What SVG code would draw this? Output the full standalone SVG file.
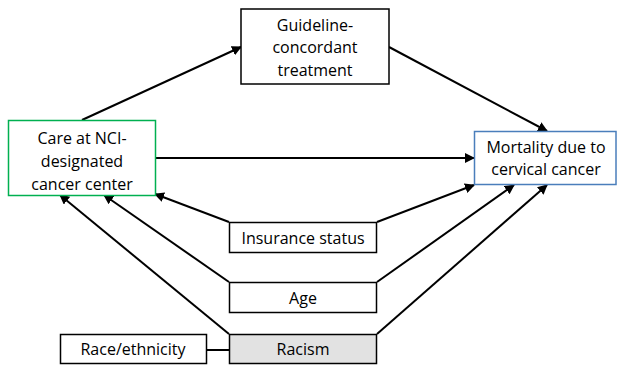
<svg xmlns="http://www.w3.org/2000/svg" width="617" height="365" viewBox="0 0 617 365">
<style>
.box{fill:#fff;stroke:#000;stroke-width:1.5}
text{font-family:"Open Sans","Liberation Sans",sans-serif;font-size:16px;fill:#000;text-anchor:middle}
.c line{stroke:#000;stroke-width:2}
.c .arr{marker-end:url(#ah)}
</style>
<defs>
<marker id="ah" viewBox="0 0 10 10" refX="9" refY="5" markerWidth="5" markerHeight="5" orient="auto" markerUnits="strokeWidth">
<path d="M0,0 L10,5 L0,10 z" fill="#000"/>
</marker>
</defs>
<rect width="617" height="365" fill="#fff"/>
<g class="c" id="connectors">
<line class="arr" x1="82" y1="120" x2="241" y2="47"/>
<line class="arr" x1="389" y1="47" x2="547" y2="131"/>
<line class="arr" x1="156" y1="158" x2="474" y2="158"/>
<line class="arr" x1="229" y1="222" x2="155" y2="194"/>
<line class="arr" x1="377" y1="222" x2="474" y2="185"/>
<line class="arr" x1="229" y1="282" x2="104" y2="195"/>
<line class="arr" x1="377" y1="282" x2="514" y2="185"/>
<line class="arr" x1="229" y1="334" x2="60" y2="195"/>
<line class="arr" x1="377" y1="334" x2="547" y2="185"/>
<line x1="207" y1="350" x2="229" y2="350"/>
</g>
<g id="guideline">
<rect class="box" x="241" y="9" width="148" height="75"/>
<text x="315" y="31">Guideline-</text>
<text x="315" y="53">concordant</text>
<text x="315" y="76">treatment</text>
</g>
<g id="care">
<rect class="box" x="8.5" y="120.5" width="147" height="75" style="stroke:#00b050"/>
<text x="82" y="144">Care at NCI-</text>
<text x="82" y="167">designated</text>
<text x="82" y="190">cancer center</text>
</g>
<g id="mortality">
<rect class="box" x="474.5" y="131.5" width="141.5" height="53" style="stroke:#4a7ebb"/>
<text x="546" y="153">Mortality due to</text>
<text x="546" y="175">cervical cancer</text>
</g>
<g id="insurance">
<rect class="box" x="229.5" y="222.5" width="147" height="30"/>
<text x="303" y="244">Insurance status</text>
</g>
<g id="age">
<rect class="box" x="229.5" y="282.5" width="147" height="30"/>
<text x="303" y="304">Age</text>
</g>
<g id="racism">
<rect class="box" x="229.5" y="334.5" width="147" height="29" style="fill:#e2e2e2"/>
<text x="303" y="355">Racism</text>
</g>
<g id="race">
<rect class="box" x="60.5" y="334.5" width="146" height="29"/>
<text x="133" y="355">Race/ethnicity</text>
</g>
</svg>
